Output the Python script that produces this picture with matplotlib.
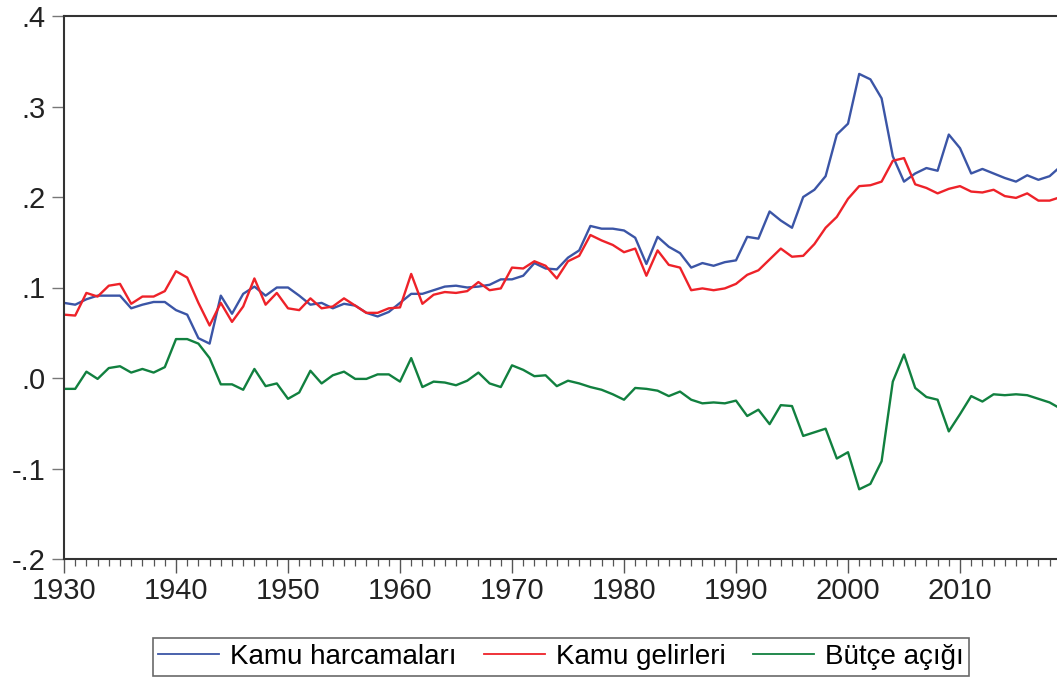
import numpy as np
import matplotlib.pyplot as plt
from matplotlib.ticker import FixedLocator, MultipleLocator

# -----------------------------
# Veri (GSYH'ye oran), 1930-2019
# -----------------------------
years = list(range(1930, 2020))

harcama = [
    0.083, 0.081, 0.087, 0.091, 0.091, 0.091, 0.077, 0.081, 0.084, 0.084,   # 1930-39
    0.075, 0.070, 0.044, 0.038, 0.091, 0.071, 0.093, 0.101, 0.091, 0.100,   # 1940-49
    0.100, 0.091, 0.081, 0.083, 0.077, 0.082, 0.080, 0.072, 0.068, 0.073,   # 1950-59
    0.083, 0.093, 0.093, 0.097, 0.101, 0.102, 0.100, 0.101, 0.103, 0.109,   # 1960-69
    0.109, 0.113, 0.127, 0.121, 0.120, 0.133, 0.141, 0.168, 0.165, 0.165,   # 1970-79
    0.163, 0.155, 0.126, 0.156, 0.145, 0.138, 0.122, 0.127, 0.124, 0.128,   # 1980-89
    0.130, 0.156, 0.154, 0.184, 0.174, 0.166, 0.200, 0.208, 0.223, 0.269,   # 1990-99
    0.281, 0.336, 0.330, 0.309, 0.245, 0.217, 0.226, 0.232, 0.229, 0.269,   # 2000-09
    0.254, 0.226, 0.231, 0.226, 0.221, 0.217, 0.224, 0.219, 0.223, 0.234,   # 2010-19
]

gelir = [
    0.070, 0.069, 0.094, 0.090, 0.102, 0.104, 0.082, 0.090, 0.090, 0.096,   # 1930-39
    0.118, 0.111, 0.083, 0.058, 0.083, 0.062, 0.079, 0.110, 0.081, 0.094,   # 1940-49
    0.077, 0.075, 0.088, 0.077, 0.079, 0.088, 0.080, 0.072, 0.072, 0.077,   # 1950-59
    0.078, 0.115, 0.082, 0.092, 0.095, 0.094, 0.096, 0.106, 0.097, 0.099,   # 1960-69
    0.122, 0.121, 0.129, 0.124, 0.110, 0.129, 0.135, 0.158, 0.152, 0.147,   # 1970-79
    0.139, 0.143, 0.113, 0.141, 0.125, 0.122, 0.097, 0.099, 0.097, 0.099,   # 1980-89
    0.104, 0.114, 0.119, 0.131, 0.143, 0.134, 0.135, 0.148, 0.166, 0.178,   # 1990-99
    0.198, 0.212, 0.213, 0.217, 0.240, 0.243, 0.214, 0.210, 0.204, 0.209,   # 2000-09
    0.212, 0.206, 0.205, 0.208, 0.201, 0.199, 0.204, 0.196, 0.196, 0.200,   # 2010-19
]

acik = [
    -0.012, -0.012, 0.007, -0.001, 0.011, 0.013, 0.006, 0.010, 0.006, 0.012,   # 1930-39
    0.043, 0.043, 0.038, 0.022, -0.007, -0.007, -0.013, 0.010, -0.009, -0.006,  # 1940-49
    -0.023, -0.016, 0.008, -0.006, 0.003, 0.007, -0.001, -0.001, 0.004, 0.004,  # 1950-59
    -0.004, 0.022, -0.010, -0.004, -0.005, -0.008, -0.003, 0.006, -0.006, -0.010,  # 1960-69
    0.014, 0.009, 0.002, 0.003, -0.009, -0.003, -0.006, -0.010, -0.013, -0.018,  # 1970-79
    -0.024, -0.011, -0.012, -0.014, -0.020, -0.015, -0.024, -0.028, -0.027, -0.028,  # 1980-89
    -0.025, -0.042, -0.035, -0.051, -0.030, -0.031, -0.064, -0.060, -0.056, -0.089,  # 1990-99
    -0.082, -0.123, -0.117, -0.092, -0.004, 0.026, -0.011, -0.021, -0.024, -0.059,  # 2000-09
    -0.040, -0.020, -0.026, -0.018, -0.019, -0.018, -0.019, -0.023, -0.027, -0.034,  # 2010-19
]

labels = ["Kamu harcamaları", "Kamu gelirleri", "Bütçe açığı"]
colors = ["#3b55a6", "#ee2229", "#11803f"]

y_ticks = [-0.2, -0.1, 0.0, 0.1, 0.2, 0.3, 0.4]
y_ticklabels = ["-.2", "-.1", ".0", ".1", ".2", ".3", ".4"]
x_ticks = [1930, 1940, 1950, 1960, 1970, 1980, 1990, 2000, 2010]

# -----------------------------
# Grafik
# -----------------------------
plt.rcParams["font.family"] = ["Liberation Sans", "DejaVu Sans"]

fig = plt.figure(figsize=(10.57, 6.80), dpi=100)
ax = fig.add_axes([64 / 1057, 121 / 680, 1 - 64 / 1057, 543 / 680])

for series, lab, col in zip([harcama, gelir, acik], labels, colors):
    ax.plot(years, series, color=col, lw=1.7, label=lab)

ax.set_xlim(1930, 1930 + (1057 - 64) / 11.2)
ax.set_ylim(-0.2, 0.4)

ax.yaxis.set_major_locator(FixedLocator(y_ticks))
ax.set_yticklabels(y_ticklabels)
ax.xaxis.set_major_locator(FixedLocator(x_ticks))
ax.xaxis.set_minor_locator(MultipleLocator(1))

ax.tick_params(axis="y", direction="out", length=9, width=1.0, color="#777777",
               labelsize=21, labelcolor="#222222", pad=4)
ax.tick_params(axis="x", which="major", direction="out", length=10, width=1.0,
               color="#555555", labelsize=21, labelcolor="#222222", pad=3)
ax.tick_params(axis="x", which="minor", direction="out", length=5, width=0.9,
               color="#555555")

for side in ["left", "top", "bottom"]:
    ax.spines[side].set_color("#333333")
    ax.spines[side].set_linewidth(1.5)
ax.spines["right"].set_visible(False)

# leyenda abajo, en una fila
leg = fig.legend(loc="center", bbox_to_anchor=(561 / 1057, 1 - 657 / 680), ncol=3,
                 fontsize=20, frameon=True, fancybox=False, edgecolor="#444444",
                 handlelength=2.2, handletextpad=0.4, columnspacing=0.97,
                 borderpad=0.2, borderaxespad=0)
leg.get_frame().set_linewidth(1.2)
for h in leg.get_lines():
    h.set_linewidth(1.3)

plt.savefig("out.png", dpi=100)
